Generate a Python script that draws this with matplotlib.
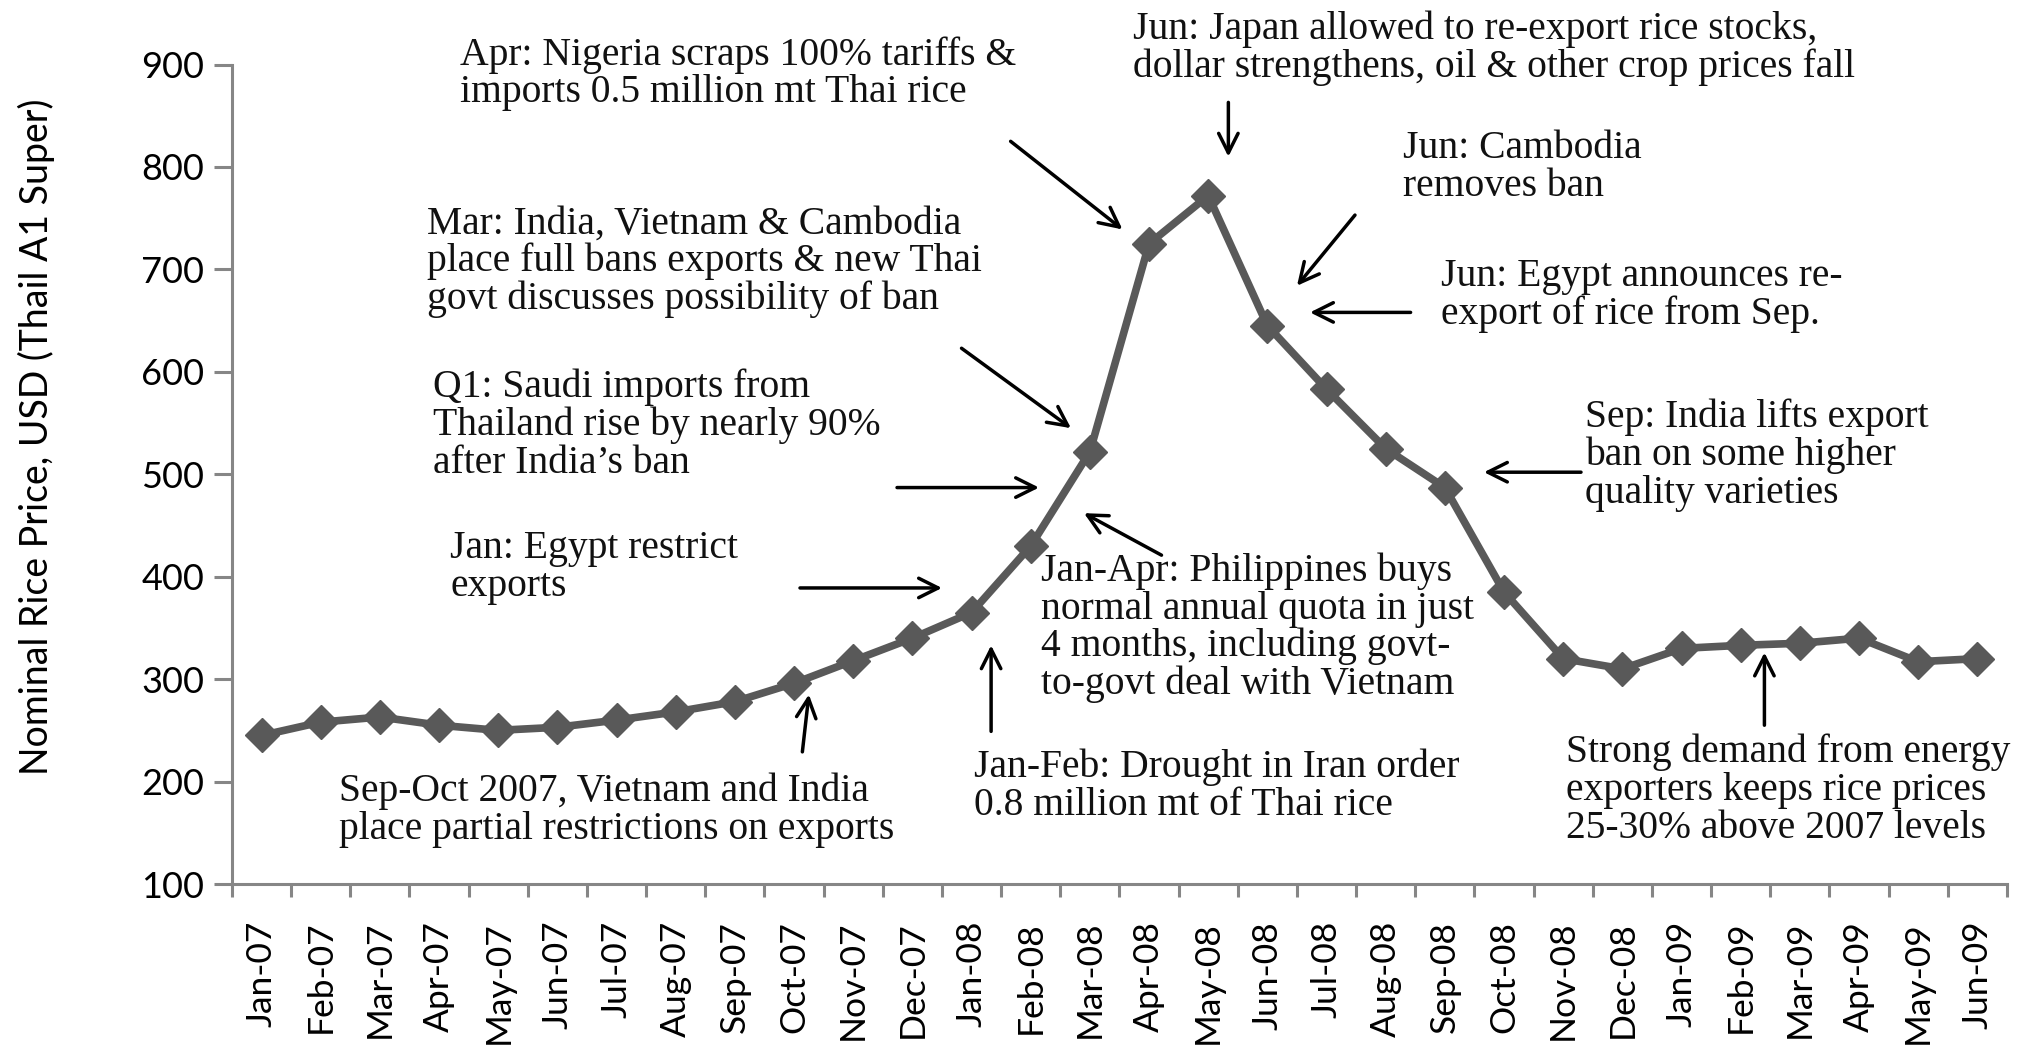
import matplotlib
matplotlib.use("Agg")
import matplotlib.pyplot as plt
import numpy as np

months = ["Jan-07", "Feb-07", "Mar-07", "Apr-07", "May-07", "Jun-07", "Jul-07", "Aug-07",
          "Sep-07", "Oct-07", "Nov-07", "Dec-07", "Jan-08", "Feb-08", "Mar-08", "Apr-08",
          "May-08", "Jun-08", "Jul-08", "Aug-08", "Sep-08", "Oct-08", "Nov-08", "Dec-08",
          "Jan-09", "Feb-09", "Mar-09", "Apr-09", "May-09", "Jun-09"]
prices = [245, 258, 263, 255, 250, 253, 260, 268, 278, 296, 318, 340, 365, 430, 522, 725,
          772, 645, 583, 525, 487, 385, 320, 310, 330, 333, 335, 340, 317, 320]
y_ticks = [100, 200, 300, 400, 500, 600, 700, 800, 900]
y_label = "Nominal Rice Price, USD (Thail A1 Super)"

# annotation texts with (x, y) of first-line baseline in data coords
notes = [
    ("Apr: Nigeria scraps 100% tariffs &\nimports 0.5 million mt Thai rice", 3.36, 900),
    ("Jun: Japan allowed to re-export rice stocks,\ndollar strengthens, oil & other crop prices fall", 14.73, 925),
    ("Jun: Cambodia\nremoves ban", 19.29, 809),
    ("Mar: India, Vietnam & Cambodia\nplace full bans exports & new Thai\ngovt discusses possibility of ban", 2.79, 735),
    ("Jun: Egypt announces re-\nexport of rice from Sep.", 19.94, 684),
    ("Q1: Saudi imports from\nThailand rise by nearly 90%\nafter India\u2019s ban", 2.90, 575),
    ("Sep: India lifts export\nban on some higher\nquality varieties", 22.37, 546),
    ("Jan: Egypt restrict\nexports", 3.19, 418),
    ("Jan-Apr: Philippines buys\nnormal annual quota in just\n4 months, including govt-\nto-govt deal with Vietnam", 13.18, 396),
    ("Sep-Oct 2007, Vietnam and India\nplace partial restrictions on exports", 1.31, 181),
    ("Jan-Feb: Drought in Iran order\n0.8 million mt of Thai rice", 12.04, 204),
    ("Strong demand from energy\nexporters keeps rice prices\n25-30% above 2007 levels", 22.04, 219),
]
line_step = 36.9  # data units between text lines

# arrows: (tail x, tail y, head x, head y)
arrows = [
    (12.66, 825, 14.55, 739),
    (16.34, 863, 16.34, 810),
    (18.48, 753, 17.50, 684),
    (19.42, 658, 17.72, 658),
    (11.83, 623, 13.68, 545),
    (10.74, 487, 13.14, 487),
    (22.30, 502, 20.66, 502),
    (9.10, 389, 11.50, 389),
    (15.21, 421, 13.90, 462),
    (9.14, 229, 9.25, 285),
    (12.33, 249, 12.33, 333),
    (25.40, 255, 25.40, 326),
]

fig = plt.figure(figsize=(20.24, 10.45), dpi=100)
ax = fig.add_axes([232 / 2024, 1 - 884 / 1045, (2007 - 232) / 2024, (884 - 64.5) / 1045])

x = np.arange(len(months))
ax.plot(x, prices, color="#595959", lw=5.5, marker="D", ms=17, mfc="#595959",
        mec="#595959", zorder=3)

ax.set_xlim(-0.5, len(months) - 0.5)
ax.set_ylim(100, 900)
ax.set_yticks(y_ticks)
ax.set_yticklabels([str(v) for v in y_ticks], fontfamily="Lato", fontsize=26)
ax.set_xticks(np.arange(len(months) + 1) - 0.5)
ax.set_xticklabels([])
ax.set_xticks(x, minor=True)
ax.set_xticklabels(months, minor=True, rotation=90, fontfamily="Lato", fontsize=25.5)
ax.tick_params(axis="x", which="major", length=9, width=2.2, color="#868686", direction="out")
ax.tick_params(axis="x", which="minor", length=0, pad=26.5)
ax.tick_params(axis="y", length=13, width=2.2, color="#868686", pad=7)

for s in ["top", "right"]:
    ax.spines[s].set_visible(False)
for s in ["left", "bottom"]:
    ax.spines[s].set_color("#868686")
    ax.spines[s].set_linewidth(2.2)

fig.text(36 / 2024, 1 - 437 / 1045, y_label, rotation=90, ha="center", va="center",
         fontfamily="Lato", fontsize=27)

for txt, tx, ty in notes:
    for k, line in enumerate(txt.split("\n")):
        ax.text(tx, ty - k * line_step, line, ha="left", va="baseline",
                fontfamily="Liberation Serif", fontsize=28.5, clip_on=False,
                color="#111111")

for x0, y0, x1, y1 in arrows:
    ax.annotate("", xy=(x1, y1), xytext=(x0, y0), annotation_clip=False,
                arrowprops=dict(arrowstyle="->,head_length=1.4,head_width=0.7",
                                color="black", lw=2.5, shrinkA=0, shrinkB=0))

fig.savefig("out.png", dpi=100)
